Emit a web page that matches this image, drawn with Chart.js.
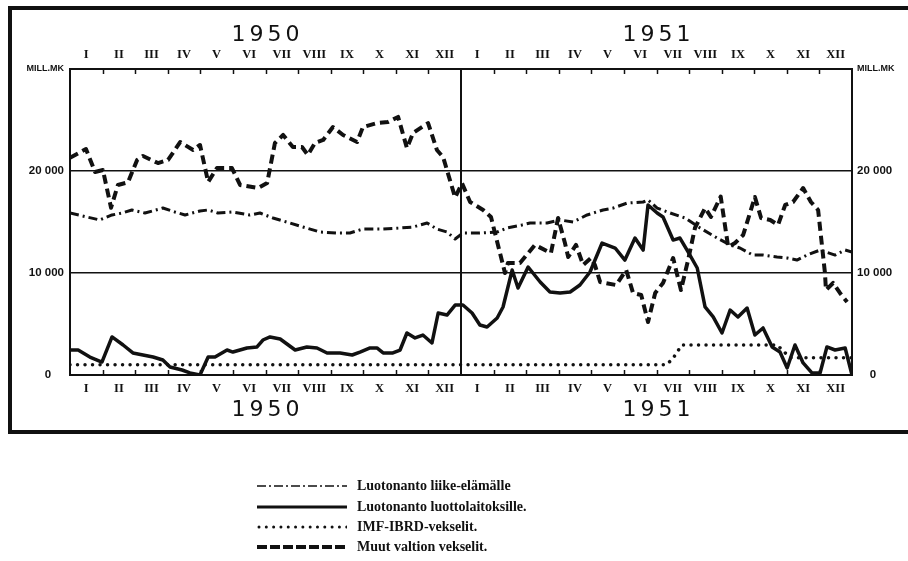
<!DOCTYPE html>
<html>
<head>
<meta charset="utf-8">
<script src="https://cdn.jsdelivr.net/npm/chart.js@4.4.1/dist/chart.umd.min.js"></script>
<style>
  html, body { margin: 0; padding: 0; background: #fff; }
  #wrap { position: relative; width: 908px; height: 561px; overflow: hidden; }
  #c { position: absolute; left: 0; top: 0; }
  .lg { position: absolute; left: 0; top: 0; width: 908px; height: 561px; pointer-events: none; }
  .row { position: absolute; left: 257px; height: 20px; }
  .row svg { position: absolute; left: 0; top: 5px; }
  .row span { position: absolute; left: 100px; top: 0; white-space: nowrap;
    font: bold 14px "Liberation Serif", "DejaVu Serif", serif; color: #111; line-height: 20px; }
</style>
</head>
<body>
<div id="wrap">
  <canvas id="c" width="908" height="445"></canvas>
  <div class="lg">
    <div class="row" style="top:476px"><svg width="90" height="10"><line x1="0" y1="5" x2="90" y2="5" stroke="#111" stroke-width="1.6" stroke-dasharray="9,3,2,3"/></svg><span>Luotonanto liike-elämälle</span></div>
    <div class="row" style="top:497px"><svg width="90" height="10"><line x1="0" y1="5" x2="90" y2="5" stroke="#111" stroke-width="3"/></svg><span>Luotonanto luottolaitoksille.</span></div>
    <div class="row" style="top:517px"><svg width="90" height="10"><line x1="2" y1="5" x2="90" y2="5" stroke="#111" stroke-width="3" stroke-linecap="round" stroke-dasharray="0.01,7.3"/></svg><span>IMF-IBRD-vekselit.</span></div>
    <div class="row" style="top:537px"><svg width="90" height="10"><line x1="0" y1="5" x2="90" y2="5" stroke="#111" stroke-width="4" stroke-dasharray="10,3"/></svg><span>Muut valtion vekselit.</span></div>
  </div>
</div>
<script>
// ---- data (x = months from Jan 1950, 0..24) ----
const monthLabels = ['I','II','III','IV','V','VI','VII','VIII','IX','X','XI','XII'];
const years = ['1950', '1951'];
const yTickValues = [0, 10000, 20000, 30000];

// Muut valtion vekselit (dashed)
const muutX = [0,0.49,0.77,1.01,1.26,1.47,1.78,2.06,2.24,2.70,3.01,3.38,3.78,3.99,4.24,4.51,4.97,5.22,5.77,6.05,6.29,6.54,6.84,7.12,7.30,7.52,7.77,8.07,8.38,8.81,8.99,9.42,9.76,10.07,10.34,10.53,10.99,11.26,11.45,11.82,12.03,12.28,12.68,12.92,13.35,13.44,13.81,14.27,14.76,14.98,15.19,15.29,15.53,15.75,15.99,16.11,16.27,16.76,17.07,17.28,17.53,17.74,17.96,18.20,18.51,18.75,18.97,19.18,19.49,19.67,19.97,20.20,20.41,20.66,21.02,21.21,21.49,21.73,21.95,22.19,22.50,22.74,22.96,23.17,23.20,23.42,23.63,23.85];
const muutY = [21300,22150,19900,20100,16400,18630,18900,21080,21470,20780,21080,22840,22060,22550,18920,20290,20290,18630,18330,18820,22750,23530,22350,22350,21570,22750,23040,24310,23530,22840,24310,24700,24800,25300,22250,23730,24700,22060,21370,17400,18800,16960,16180,15490,10000,10980,10980,12750,11960,15390,12940,11570,12750,10780,11470,10780,9120,8820,10290,8040,7840,5200,8040,9020,11470,8330,11270,14410,16370,15490,17500,12550,12940,13730,17450,15390,15200,14710,16670,16960,18330,16960,16180,10000,8330,9020,8040,7160];

// Luotonanto liike-elämälle (dash-dot)
const liikeX = [0,0.52,0.92,1.29,1.60,1.90,2.30,2.85,3.22,3.53,3.99,4.24,4.54,4.97,5.52,5.83,6.23,6.75,7.15,7.67,8.20,8.59,8.99,9.61,10.13,10.53,10.96,11.26,11.57,11.82,12.06,12.58,13.11,13.41,13.87,14.12,14.64,15.04,15.44,15.87,16.36,16.67,17.10,17.59,17.74,18.02,18.42,18.88,19.34,19.86,20.26,20.56,20.96,21.27,21.70,22.01,22.31,22.62,23.02,23.48,23.79,24];
const liikeY = [15880,15490,15200,15690,15880,16180,15880,16370,15980,15690,16080,16180,15880,15980,15690,15880,15390,14900,14510,14020,13920,13920,14310,14310,14410,14510,14900,14310,14020,13330,13920,13920,14020,14410,14710,14900,14900,15200,15000,15690,16180,16370,16860,16960,17160,16370,15880,15390,14410,13430,12750,12450,11760,11760,11570,11470,11270,11760,12250,11760,12250,12060];

// Luotonanto luottolaitoksille (solid)
const luottoX = [0,0.25,0.61,0.98,1.29,1.63,1.93,2.24,2.55,2.85,3.07,3.44,3.68,3.99,4.24,4.45,4.82,5.00,5.43,5.74,5.92,6.14,6.45,6.91,7.27,7.58,7.89,8.29,8.66,8.90,9.21,9.42,9.61,9.91,10.13,10.34,10.59,10.83,11.11,11.30,11.57,11.82,12.06,12.34,12.58,12.80,13.11,13.29,13.57,13.75,14.06,14.43,14.73,15.04,15.35,15.65,15.96,16.33,16.73,17.03,17.34,17.59,17.74,18.02,18.20,18.51,18.72,18.97,19.25,19.49,19.74,20.01,20.26,20.50,20.78,21.02,21.27,21.55,21.79,22.01,22.25,22.50,22.77,23.02,23.23,23.48,23.79,24];
const luottoY = [2450,2450,1760,1270,3730,2940,2160,1960,1760,1470,780,490,200,0,1760,1760,2450,2250,2650,2750,3430,3730,3530,2450,2750,2650,2160,2160,1960,2250,2650,2650,2160,2160,2450,4120,3630,3920,3140,6080,5880,6860,6860,6080,4900,4710,5590,6670,10290,8530,10590,9120,8140,8040,8140,8820,10100,12940,12450,11270,13430,12250,16670,15880,15490,13230,13430,12060,10490,6670,5690,4120,6370,5690,6570,3920,4610,2750,2250,690,2940,1180,200,200,2750,2450,2650,0];

// IMF-IBRD-vekselit (dotted)
const imfX = [0,18.30,18.50,18.78,21.70,22.10,24];
const imfY = [1000,1000,1600,2950,2950,1700,1700];

const pts = (xs, ys) => xs.map((x, i) => ({ x: x, y: ys[i] }));

const INK = '#111';
const monthCenters = [];
for (let i = 0; i < 24; i++) monthCenters.push(i + 0.5);

const decor = {
  id: 'decor',
  beforeDatasetsDraw(chart) {
    const ctx = chart.ctx, xs = chart.scales.xb, a = chart.chartArea;
    ctx.save();
    ctx.strokeStyle = INK;
    // year divider
    ctx.lineWidth = 2;
    const xm = xs.getPixelForValue(12);
    ctx.beginPath(); ctx.moveTo(xm, a.top); ctx.lineTo(xm, a.bottom); ctx.stroke();
    // month boundary ticks
    ctx.lineWidth = 1.5;
    for (let m = 1; m < 24; m++) {
      if (m === 12) continue;
      const x = Math.round(xs.getPixelForValue(m)) + 0.5;
      ctx.beginPath(); ctx.moveTo(x, a.top); ctx.lineTo(x, a.top + 5); ctx.stroke();
      ctx.beginPath(); ctx.moveTo(x, a.bottom); ctx.lineTo(x, a.bottom - 5); ctx.stroke();
    }
    ctx.restore();
  },
  afterDraw(chart) {
    const ctx = chart.ctx, xs = chart.scales.xb;
    ctx.save();
    ctx.fillStyle = INK;
    ctx.font = '22px "DejaVu Sans", sans-serif';
    ctx.textAlign = 'center';
    ctx.textBaseline = 'middle';
    try { ctx.letterSpacing = '4px'; } catch (e) {}
    years.forEach((yr, i) => {
      const cx = xs.getPixelForValue(6 + 12 * i) + 2;
      ctx.fillText(yr, cx, 35);
      ctx.fillText(yr, cx, 410);
    });
    try { ctx.letterSpacing = '0px'; } catch (e) {}
    // outer box
    ctx.strokeStyle = INK;
    ctx.lineWidth = 4;
    ctx.beginPath();
    ctx.moveTo(908, 8); ctx.lineTo(10, 8); ctx.lineTo(10, 432); ctx.lineTo(908, 432);
    ctx.stroke();
    ctx.restore();
  }
};

const yFont = (c) => (c.tick && c.tick.value === 30000)
  ? { family: '"Liberation Sans", Arial, sans-serif', size: 9, weight: 'bold' }
  : { family: '"Liberation Sans", Arial, sans-serif', size: 11.5, weight: 'bold' };

const fmtLeft = (v) => v === 30000 ? 'MILL.MK' : v === 0 ? '0    ' : (v / 1000) + ' 000';
const fmtRight = (v) => v === 30000 ? 'MILL.MK' : v === 0 ? '    0' : (v / 1000) + ' 000';

new Chart(document.getElementById('c'), {
  type: 'line',
  data: {
    datasets: [
      { label: 'Luotonanto liike-elämälle', data: pts(liikeX, liikeY), borderColor: INK, borderWidth: 3,
        borderDash: [9, 4, 2, 4], xAxisID: 'xb', yAxisID: 'y' },
      { label: 'Luotonanto luottolaitoksille.', data: pts(luottoX, luottoY), borderColor: INK, borderWidth: 3.5,
        xAxisID: 'xb', yAxisID: 'y' },
      { label: 'IMF-IBRD-vekselit.', data: pts(imfX, imfY), borderColor: INK, borderWidth: 3.5,
        borderDash: [0.01, 7.5], borderCapStyle: 'round', xAxisID: 'xb', yAxisID: 'y' },
      { label: 'Muut valtion vekselit.', data: pts(muutX, muutY), borderColor: INK, borderWidth: 4,
        borderDash: [9, 5], xAxisID: 'xb', yAxisID: 'y' }
    ]
  },
  options: {
    responsive: false,
    animation: false,
    events: [],
    layout: { padding: { left: 10, right: 0, top: 0, bottom: 0 } },
    elements: { point: { radius: 0 }, line: { tension: 0, borderJoinStyle: 'round', fill: false } },
    plugins: { legend: { display: false }, tooltip: { enabled: false } },
    scales: {
      xb: {
        type: 'linear', position: 'bottom', min: 0, max: 24,
        afterBuildTicks: (s) => { s.ticks = monthCenters.map(v => ({ value: v })); },
        afterFit: (s) => { s.height = 70; },
        grid: { display: false, drawTicks: false },
        border: { display: true, color: INK, width: 2 },
        ticks: { autoSkip: false, maxRotation: 0, padding: 6, color: INK,
          font: { family: '"Liberation Serif", serif', size: 12.5, weight: 'bold' },
          callback: (v) => monthLabels[Math.floor(v) % 12] }
      },
      xt: {
        type: 'linear', position: 'top', min: 0, max: 24,
        afterBuildTicks: (s) => { s.ticks = monthCenters.map(v => ({ value: v })); },
        afterFit: (s) => { s.height = 69; },
        grid: { display: false, drawTicks: false },
        border: { display: true, color: INK, width: 2 },
        ticks: { autoSkip: false, maxRotation: 0, padding: 7, color: INK,
          font: { family: '"Liberation Serif", serif', size: 12.5, weight: 'bold' },
          callback: (v) => monthLabels[Math.floor(v) % 12] }
      },
      y: {
        type: 'linear', position: 'left', min: 0, max: 30000,
        afterBuildTicks: (s) => { s.ticks = yTickValues.map(v => ({ value: v })); },
        afterFit: (s) => { s.width = 60; },
        grid: { display: true, color: INK, lineWidth: 1.4, drawTicks: false },
        border: { display: true, color: INK, width: 2 },
        ticks: { padding: 6, color: INK, font: yFont, callback: fmtLeft }
      },
      y2: {
        type: 'linear', position: 'right', min: 0, max: 30000,
        afterBuildTicks: (s) => { s.ticks = yTickValues.map(v => ({ value: v })); },
        afterFit: (s) => { s.width = 56; },
        grid: { display: false, drawTicks: false },
        border: { display: true, color: INK, width: 2 },
        ticks: { padding: 5, color: INK, font: yFont, callback: fmtRight }
      }
    }
  },
  plugins: [decor]
});
</script>
</body>
</html>
